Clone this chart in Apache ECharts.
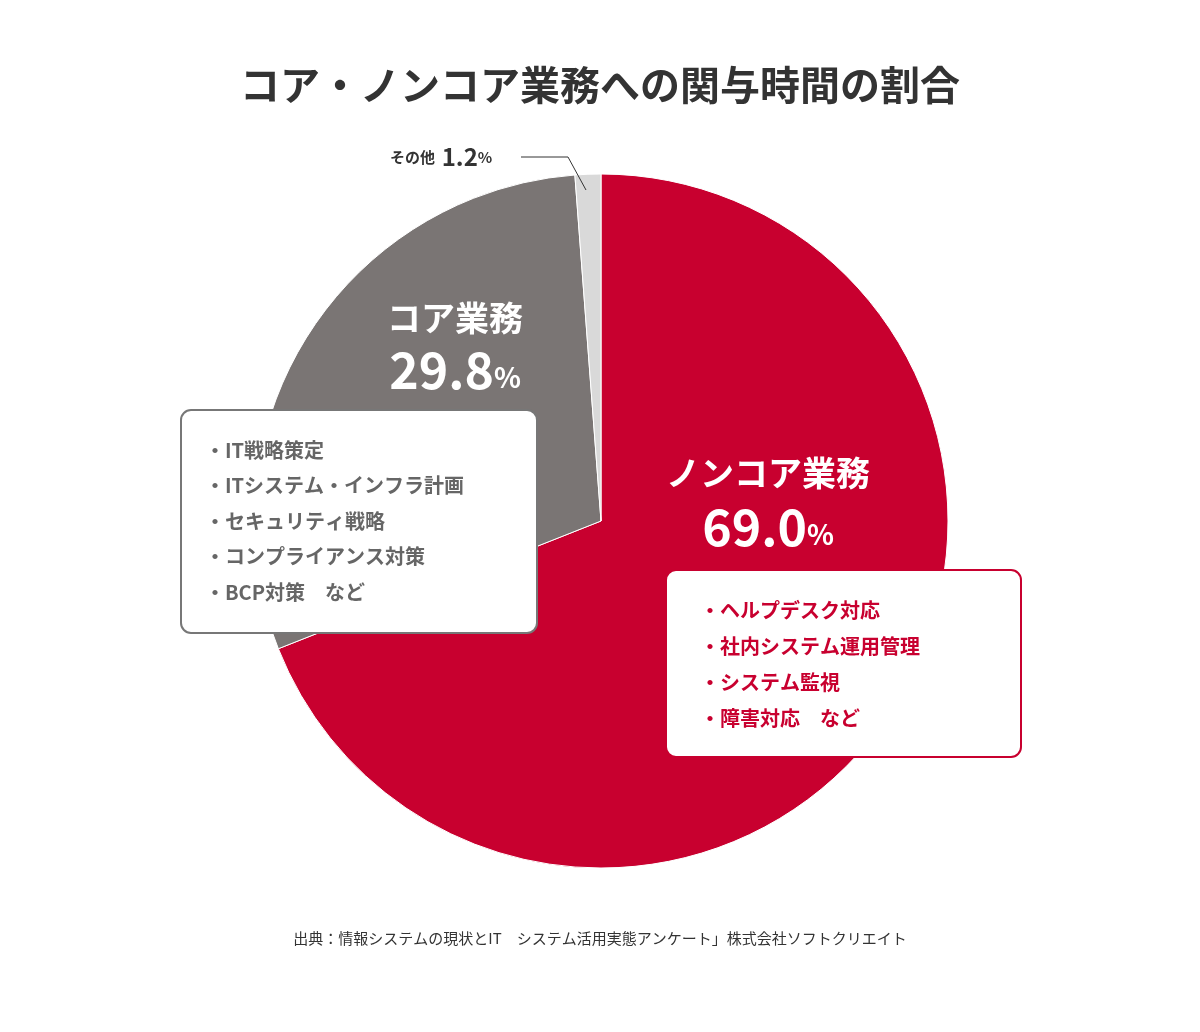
<!DOCTYPE html>
<html><head><meta charset="utf-8">
<script src="https://cdn.jsdelivr.net/npm/echarts@6/dist/echarts.min.js"></script>
<style>html,body{margin:0;padding:0;background:#fff}#c{width:1200px;height:1032px}</style>
</head><body><div id="c"></div>
<script>
const categories = ['ノンコア業務', 'コア業務', 'その他'];
const values = [69.0, 29.8, 1.2];
const colors = ['#C8002F', '#7A7574', '#D9D9D9'];
const coreItems = ['・IT戦略策定', '・ITシステム・インフラ計画', '・セキュリティ戦略', '・コンプライアンス対策', '・BCP対策　など'];
const nonCoreItems = ['・ヘルプデスク対応', '・社内システム運用管理', '・システム監視', '・障害対応　など'];
const titleText = 'コア・ノンコア業務への関与時間の割合';
const sourceText = '出典：情報システムの現状とIT　システム活用実態アンケート」株式会社ソフトクリエイト';

const F = '"Noto Sans CJK JP", "Noto Sans", sans-serif';
const chart = echarts.init(document.getElementById('c'));
function listText(items, x, y0, step, color) {
  return items.map((t, i) => ({
    type: 'text', left: x, top: y0 + i * step,
    style: { text: t, font: 'bold 20px ' + F, fill: color }
  }));
}
const fmt = v => v.toFixed(1);
chart.setOption({
  title: { text: titleText, left: 'center', top: 60,
    textStyle: { fontFamily: F, fontSize: 40, fontWeight: 'bold', color: '#333' } },
  series: [{
    type: 'pie', center: [601, 521], radius: [0, 347], startAngle: 90, clockwise: true,
    silent: true, label: { show: false }, labelLine: { show: false },
    itemStyle: { borderColor: '#fff', borderWidth: 1 },
    data: categories.map((c, i) => ({ name: c, value: values[i], itemStyle: { color: colors[i] } }))
  }],
  graphic: [
    { type: 'rect', shape: { x: 181, y: 410, width: 356, height: 223, r: 10 },
      style: { fill: '#fff', stroke: '#777', lineWidth: 2 }, z: 10 },
    { type: 'rect', shape: { x: 666, y: 570, width: 355, height: 187, r: 10 },
      style: { fill: '#fff', stroke: '#C8002F', lineWidth: 2 }, z: 10 },
    ...listText(coreItems, 205, 440, 35.5, '#666').map(o => (o.z = 11, o)),
    ...listText(nonCoreItems, 700, 600, 36, '#C8002F').map(o => (o.z = 11, o)),
    { type: 'text', z: 11, style: { x: 455, y: 318, text: categories[1], textAlign: 'center', textVerticalAlign: 'middle', font: 'bold 34px ' + F, fill: '#fff' } },
    { type: 'text', z: 11, style: { x: 455, y: 370, textAlign: 'center', textVerticalAlign: 'middle',
      text: '{a|' + fmt(values[1]) + '}{b|%}', rich: { a: { font: 'bold 50px ' + F, fill: '#fff' }, b: { font: 'bold 28px ' + F, fill: '#fff', padding: [14, 0, 0, 0] } } } },
    { type: 'text', z: 11, style: { x: 768, y: 473, text: categories[0], textAlign: 'center', textVerticalAlign: 'middle', font: 'bold 34px ' + F, fill: '#fff' } },
    { type: 'text', z: 11, style: { x: 768, y: 527, textAlign: 'center', textVerticalAlign: 'middle',
      text: '{a|' + fmt(values[0]) + '}{b|%}', rich: { a: { font: 'bold 50px ' + F, fill: '#fff' }, b: { font: 'bold 28px ' + F, fill: '#fff', padding: [14, 0, 0, 0] } } } },
    { type: 'text', z: 11, style: { x: 390, y: 157, textVerticalAlign: 'middle',
      text: '{a|' + categories[2] + '}  {b|' + fmt(values[2]) + '}{c|%}',
      rich: { a: { font: 'bold 15px ' + F, fill: '#333' }, b: { font: 'bold 24px ' + F, fill: '#333' }, c: { font: 'bold 15px ' + F, fill: '#333' } } } },
    { type: 'polyline', z: 11, shape: { points: [[521, 157], [568, 157], [586, 190]] }, style: { stroke: '#333', lineWidth: 1, fill: null } },
    { type: 'text', z: 11, style: { x: 600, y: 938, text: sourceText, textAlign: 'center', textVerticalAlign: 'middle', font: '15px ' + F, fill: '#333' } }
  ]
});
</script></body></html>
